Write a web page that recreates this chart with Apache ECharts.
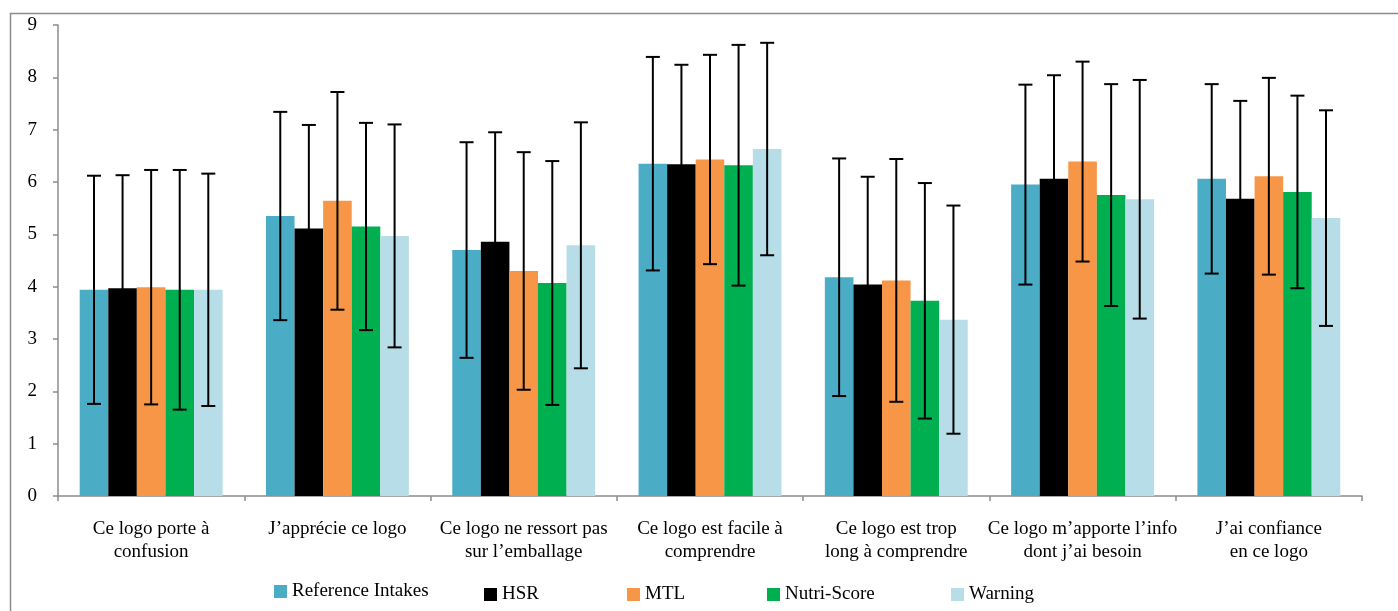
<!DOCTYPE html>
<html>
<head>
<meta charset="utf-8">
<script src="https://cdn.jsdelivr.net/npm/echarts@6/dist/echarts.min.js"></script>
<style>
html,body{margin:0;padding:0;background:#fff;}
#chart{width:1398px;height:611px;}
</style>
</head>
<body>
<div id="chart"></div>
<script>
const categories = [
  "Ce logo porte à\nconfusion",
  "J’apprécie ce logo",
  "Ce logo ne ressort pas\nsur l’emballage",
  "Ce logo est facile à\ncomprendre",
  "Ce logo est trop\nlong à comprendre",
  "Ce logo m’apporte l’info\ndont j’ai besoin",
  "J’ai confiance\nen ce logo"
];
const seriesNames = ["Reference Intakes", "HSR", "MTL", "Nutri-Score", "Warning"];
const colors = ["#4BACC6", "#000000", "#F79646", "#00B050", "#B7DDE8"];

const riMean  = [3.94, 5.35, 4.70, 6.35, 4.18, 5.95, 6.06];
const riSD    = [2.18, 1.99, 2.06, 2.04, 2.27, 1.91, 1.81];
const hsrMean = [3.97, 5.11, 4.86, 6.34, 4.04, 6.06, 5.68];
const hsrSD   = [2.16, 1.98, 2.09, 1.90, 2.06, 1.98, 1.87];
const mtlMean = [3.99, 5.64, 4.30, 6.43, 4.12, 6.39, 6.11];
const mtlSD   = [2.24, 2.08, 2.27, 2.00, 2.32, 1.91, 1.88];
const nsMean  = [3.94, 5.15, 4.07, 6.32, 3.73, 5.75, 5.81];
const nsSD    = [2.29, 1.98, 2.33, 2.30, 2.25, 2.12, 1.84];
const wMean   = [3.94, 4.97, 4.79, 6.63, 3.37, 5.67, 5.31];
const wSD     = [2.22, 2.13, 2.35, 2.03, 2.18, 2.28, 2.06];

const yTicks = [0, 1, 2, 3, 4, 5, 6, 7, 8, 9];

const means = [riMean, hsrMean, mtlMean, nsMean, wMean];
const sds = [riSD, hsrSD, mtlSD, nsSD, wSD];

const FONT = "Liberation Serif";
const FS = 19;
const CAT_GAP = 0.233;

const barSeries = seriesNames.map((name, i) => ({
  name: name,
  type: "bar",
  data: means[i],
  barGap: "0%",
  barCategoryGap: (CAT_GAP * 100) + "%",
  itemStyle: { color: colors[i] },
  z: 2
}));

const errData = [];
for (let s = 0; s < 5; s++) {
  for (let c = 0; c < categories.length; c++) {
    errData.push([c, means[s][c] - sds[s][c], means[s][c] + sds[s][c], s]);
  }
}

const errSeries = {
  type: "custom",
  name: "err",
  data: errData,
  z: 10,
  silent: true,
  encode: { x: 0, y: [1, 2] },
  renderItem: function (params, api) {
    const c = api.value(0);
    const lo = api.value(1);
    const hi = api.value(2);
    const s = api.value(3);
    const catW = api.size([1, 0])[0];
    const bw = catW * (1 - CAT_GAP) / 5;
    const pLo = api.coord([c, lo]);
    const pHi = api.coord([c, hi]);
    const x = pLo[0] + (s - 2) * bw;
    const cap = 7;
    const style = { stroke: "#000", lineWidth: 2, fill: null };
    return {
      type: "group",
      children: [
        { type: "line", shape: { x1: x, y1: pLo[1], x2: x, y2: pHi[1] }, style: style },
        { type: "line", shape: { x1: x - cap, y1: pLo[1], x2: x + cap, y2: pLo[1] }, style: style },
        { type: "line", shape: { x1: x - cap, y1: pHi[1], x2: x + cap, y2: pHi[1] }, style: style }
      ]
    };
  }
};

const legendLefts = [274, 484, 627, 767, 951];
const legendTops = [582, 585, 585, 585, 585];
const legends = seriesNames.map((n, i) => ({
  data: [n],
  left: legendLefts[i],
  top: legendTops[i],
  icon: "rect",
  itemWidth: 13,
  itemHeight: 13,
  itemGap: 5,
  padding: 0,
  textStyle: { fontFamily: FONT, fontSize: FS, color: "#000", padding: [0, 0, 0, 0] },
  selectedMode: false
}));

const chart = echarts.init(document.getElementById("chart"), null, { renderer: "canvas" });
chart.setOption({
  animation: false,
  backgroundColor: "#fff",
  graphic: [
    { type: "polyline", shape: { points: [[10.5, 611], [10.5, 13.5], [1398, 13.5]] },
      style: { stroke: "#8c8c8c", lineWidth: 1.5, fill: null }, silent: true }
  ],
  legend: legends,
  grid: { left: 58, right: 36, top: 25, bottom: 115, containLabel: false },
  xAxis: {
    type: "category",
    data: categories,
    axisLine: { lineStyle: { color: "#8c8c8c", width: 1.5 } },
    axisTick: { show: true, length: 5, alignWithLabel: false, lineStyle: { color: "#8c8c8c", width: 1.5 } },
    axisLabel: { interval: 0, margin: 22, fontFamily: FONT, fontSize: FS, color: "#000", lineHeight: 23 }
  },
  yAxis: {
    type: "value",
    min: yTicks[0],
    max: yTicks[yTicks.length - 1],
    interval: 1,
    splitLine: { show: false },
    axisLine: { show: true, lineStyle: { color: "#8c8c8c", width: 1.5 } },
    axisTick: { show: true, length: 5, lineStyle: { color: "#8c8c8c", width: 1.5 } },
    axisLabel: { margin: 21, fontFamily: FONT, fontSize: FS, color: "#000" }
  },
  series: barSeries.concat([errSeries])
});
</script>
</body>
</html>
